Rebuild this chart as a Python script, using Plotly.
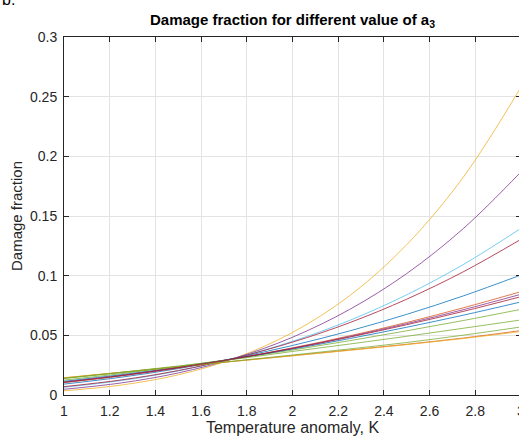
import plotly.graph_objects as go

# Temperature anomaly samples (K)
temperature = [1.0, 1.25, 1.5, 1.75, 2.0, 2.25, 2.5, 2.75, 3.0]

# Damage fraction curves (one per a3 value)
d_yellow_1 = [0.0035, 0.0083, 0.0169, 0.0310, 0.0524, 0.0832, 0.1260, 0.1832, 0.2580]
d_purple_1 = [0.0048, 0.0101, 0.0185, 0.0310, 0.0484, 0.0717, 0.1018, 0.1399, 0.1870]
d_cyan_1   = [0.0065, 0.0121, 0.0202, 0.0310, 0.0450, 0.0625, 0.0840, 0.1096, 0.1397]
d_red_1    = [0.0070, 0.0126, 0.0205, 0.0310, 0.0443, 0.0606, 0.0803, 0.1035, 0.1305]
d_blue_1   = [0.0091, 0.0149, 0.0221, 0.0310, 0.0415, 0.0537, 0.0676, 0.0832, 0.1006]
d_orange_1 = [0.0103, 0.0159, 0.0226, 0.0305, 0.0395, 0.0496, 0.0608, 0.0732, 0.0866]
d_purple_2 = [0.0106, 0.0162, 0.0228, 0.0305, 0.0392, 0.0490, 0.0598, 0.0716, 0.0844]
d_red_2    = [0.0109, 0.0164, 0.0230, 0.0305, 0.0390, 0.0485, 0.0589, 0.0702, 0.0824]
d_blue_2   = [0.0115, 0.0170, 0.0233, 0.0305, 0.0385, 0.0473, 0.0568, 0.0670, 0.0780]
d_green_1  = [0.0125, 0.0179, 0.0239, 0.0305, 0.0377, 0.0455, 0.0538, 0.0625, 0.0718]
d_green_2  = [0.0138, 0.0190, 0.0243, 0.0300, 0.0365, 0.0427, 0.0492, 0.0560, 0.0629]
d_green_3  = [0.0140, 0.0188, 0.0236, 0.0285, 0.0335, 0.0386, 0.0440, 0.0502, 0.0570]
d_orange_2 = [0.0143, 0.0190, 0.0237, 0.0284, 0.0330, 0.0377, 0.0425, 0.0478, 0.0540]
d_yellow_2 = [0.0145, 0.0191, 0.0237, 0.0283, 0.0328, 0.0374, 0.0422, 0.0474, 0.0532]

series = [
    (d_blue_1, "#0072BD"), (d_orange_1, "#D95319"), (d_yellow_1, "#EDB120"),
    (d_purple_1, "#7E2F8E"), (d_green_1, "#77AC30"), (d_cyan_1, "#4DBEEE"),
    (d_red_1, "#A2142F"), (d_blue_2, "#0072BD"), (d_orange_2, "#D95319"),
    (d_yellow_2, "#EDB120"), (d_purple_2, "#7E2F8E"), (d_green_2, "#77AC30"),
    (d_green_3, "#77AC30"), (d_red_2, "#A2142F"),
]

x_ticks = [1, 1.2, 1.4, 1.6, 1.8, 2, 2.2, 2.4, 2.6, 2.8, 3]
x_tick_labels = ["1", "1.2", "1.4", "1.6", "1.8", "2", "2.2", "2.4", "2.6", "2.8", "3"]
y_ticks = [0, 0.05, 0.1, 0.15, 0.2, 0.25, 0.3]
y_tick_labels = ["0", "0.05", "0.1", "0.15", "0.2", "0.25", "0.3"]

fig = go.Figure()
for vals, col in series:
    fig.add_trace(go.Scatter(x=temperature, y=vals, mode="lines", opacity=0.85,
                             line=dict(color=col, width=0.9, shape="spline"),
                             showlegend=False, hoverinfo="skip"))

FONT = "Liberation Sans, Arial"
axis_common = dict(showline=True, linecolor="#262626", linewidth=1, mirror="ticks",
                   ticks="inside", ticklen=5, tickcolor="#262626", automargin=False,
                   showgrid=True, gridcolor="#e3e3e3", gridwidth=1, zeroline=False,
                   ticklabeloverflow="allow", ticklabelstandoff=3,
                   tickfont=dict(family=FONT, size=14, color="#262626"))

W = 521
fig.update_layout(
    width=W, height=440,
    margin=dict(l=64, r=0, t=37, b=45),
    paper_bgcolor="white", plot_bgcolor="white",
    title=dict(text="<b>Damage fraction for different value of a<sub>3</sub></b>",
               x=(64 + W) / 2 / W, xanchor="center", y=1 - 20 / 440, yanchor="middle",
               font=dict(family=FONT, size=15, color="black")),
    xaxis=dict(range=[1, 3], tickvals=x_ticks, ticktext=x_tick_labels,
               title=dict(text="Temperature anomaly, K", standoff=2,
                          font=dict(family=FONT, size=16, color="#262626")),
               **axis_common),
    yaxis=dict(range=[0, 0.3], tickvals=y_ticks, ticktext=y_tick_labels,
               title=dict(text="Damage fraction", standoff=3,
                          font=dict(family=FONT, size=15, color="#262626")),
               **axis_common),
    annotations=[dict(text="b.", xref="paper", yref="paper", x=-64 / (W - 64), y=1 + 37 / 358,
                      xanchor="left", yanchor="middle", showarrow=False,
                      font=dict(family=FONT, size=16, color="black"))],
)

fig.write_html("out.html", config={"displayModeBar": False, "responsive": False},
               post_script="document.body.style.margin='0';document.body.style.padding='0';"
                           "document.body.style.overflow='hidden';"
                           "document.documentElement.style.overflow='hidden';")
